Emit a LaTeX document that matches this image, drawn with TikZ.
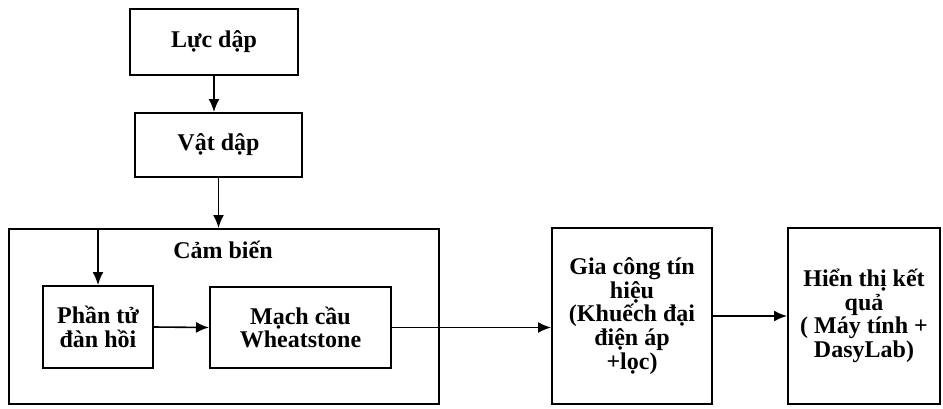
\documentclass[tikz,border=0pt]{standalone}
\usepackage{fontspec}
\setmainfont{Liberation Serif}
\usetikzlibrary{arrows.meta}
\tikzset{
  box/.style={draw, line width=1pt, align=center, inner sep=0pt,
    font=\fontsize{12}{11.8}\selectfont\bfseries},
  lbl/.style={font=\fontsize{12}{11.8}\selectfont\bfseries, inner sep=0pt},
  arr/.style={line width=0.8pt, -{Latex[length=6.5pt,width=5.5pt]}},
  ln/.style={line width=0.8pt}
}
\begin{document}
\begin{tikzpicture}[x=0.5pt,y=-0.5pt]
\useasboundingbox (0,0) rectangle (943,408);
\node[box, minimum width=84pt, minimum height=33pt] (luc) at (214,42) {Lực dập};
\node[box, minimum width=83.5pt, minimum height=32pt] (vat) at (218.5,145) {Vật dập};
\node[box, minimum width=215pt, minimum height=87.5pt] (cam) at (224,316.5) {};
\node[lbl] (camlbl) at (223,250) {Cảm biến};
\node[box, minimum width=55pt, minimum height=41pt] (phan) at (98,327) {Phần tử\\đàn hồi};
\node[box, minimum width=90.5pt, minimum height=40.5pt] (mach) at (300.5,327.5) {Mạch cầu\\Wheatstone};
\node[box, minimum width=80pt, minimum height=88pt] (gia) at (632,316) {Gia công tín\\hiệu\\(Khuếch đại\\điện áp\\+lọc)};
\node[box, minimum width=76pt, minimum height=88pt] (hien) at (864,316) {Hiển thị kết\\quả\\( Máy tính +\\DasyLab)};
\draw[arr] (luc.south) -- (luc.south |- vat.north);
\draw[arr] (vat.south) -- (vat.south |- cam.north);
\draw[arr] (phan.north |- cam.north) -- (phan.north);
\draw[arr] (phan.east) -- (mach.west);
\draw[arr] (mach.east) -- (mach.east -| gia.west);
\draw[arr] (gia.east) -- (hien.west);
\end{tikzpicture}
\end{document}
